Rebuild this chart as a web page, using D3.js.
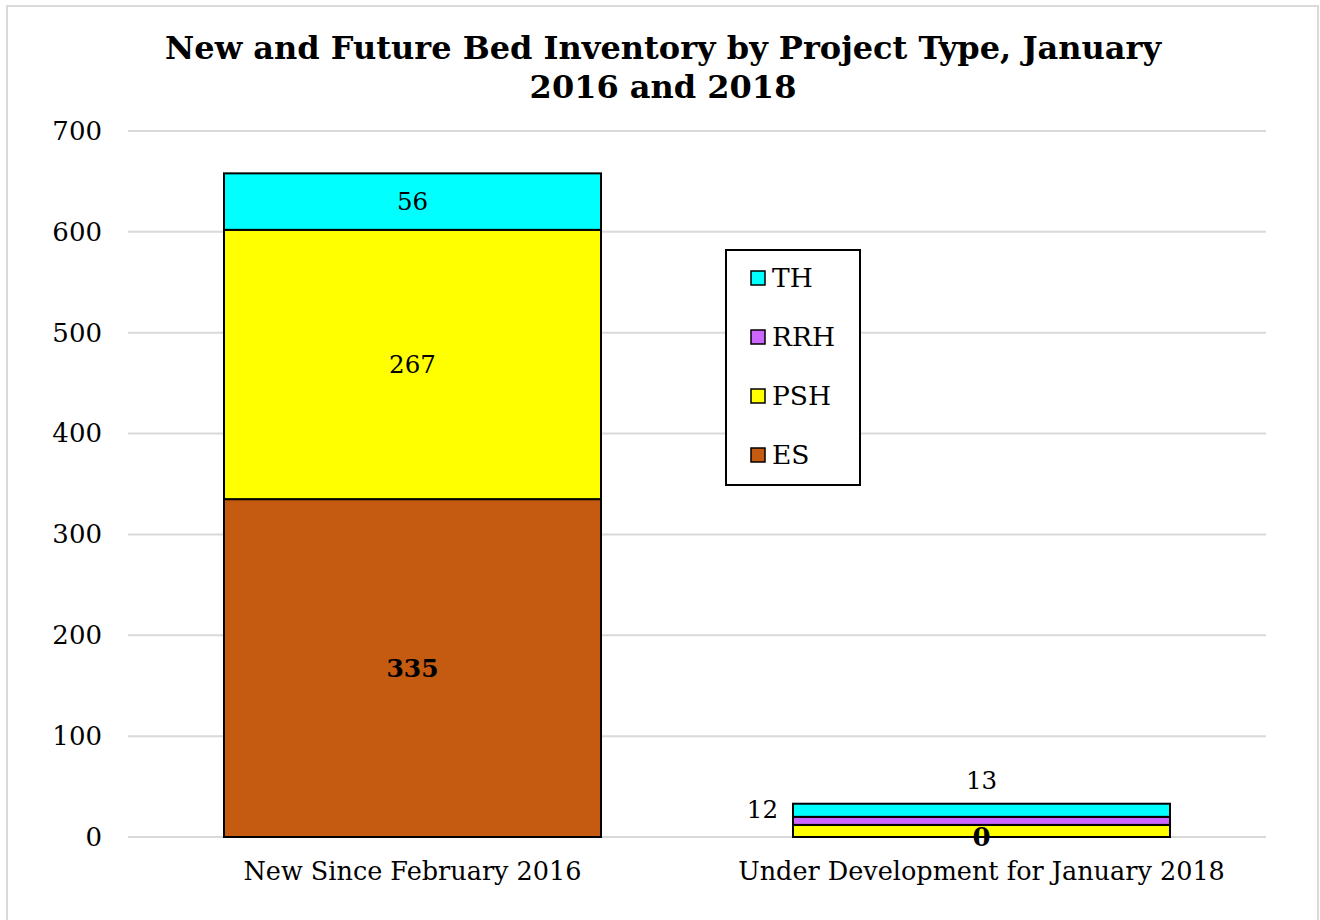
<!DOCTYPE html>
<html><head><meta charset="utf-8">
<script src="https://cdn.jsdelivr.net/npm/d3@7"></script>
<style>
html,body{margin:0;padding:0;background:#fff;}
svg{display:block;font-family:"DejaVu Serif",serif;}
</style></head>
<body>
<svg id="chart" width="1320" height="920"></svg>
<script>
const categories = ["New Since February 2016", "Under Development for January 2018"];
const seriesNames = ["ES", "PSH", "RRH", "TH"];
const ES  = [335, 0];
const PSH = [267, 12];
const RRH = [0, 8];
const TH  = [56, 13];
const yTicks = [0, 100, 200, 300, 400, 500, 600, 700];
const colors = {ES:"#c55a11", PSH:"#ffff00", RRH:"#cc66ff", TH:"#00ffff"};
const titleLines = ["New and Future Bed Inventory by Project Type, January", "2016 and 2018"];

const svg = d3.select("#chart");
const W = 1320, H = 920;
const m = {left:128, right:54, top:131, bottom:83};
const x0 = m.left, x1 = W - m.right, y0 = H - m.bottom, y1 = m.top;

// outer border
svg.append("rect").attr("x",7).attr("y",6).attr("width",1311).attr("height",930)
  .attr("fill","none").attr("stroke","#d9d9d9").attr("stroke-width",2);

const table = categories.map((c,i)=>({cat:c, ES:ES[i], PSH:PSH[i], RRH:RRH[i], TH:TH[i]}));
const stacked = d3.stack().keys(seriesNames)(table);

const y = d3.scaleLinear().domain([0,700]).range([y0,y1]);
const p = 192/569;
const x = d3.scaleBand().domain(categories).range([x0,x1]).paddingInner(p).paddingOuter(p/2);

// gridlines
svg.append("g").selectAll("line").data(yTicks).join("line")
  .attr("x1",x0).attr("x2",x1).attr("y1",d=>y(d)).attr("y2",d=>y(d))
  .attr("stroke","#d9d9d9").attr("stroke-width",2);

// y axis labels
const yAxis = d3.axisLeft(y).tickValues(yTicks).tickSize(0).tickPadding(26);
const ya = svg.append("g").attr("transform",`translate(${x0},0)`).call(yAxis);
ya.select(".domain").remove();
ya.selectAll("text").attr("font-family","DejaVu Serif").attr("font-size",26).attr("fill","#000");

// x axis labels
const xAxis = d3.axisBottom(x).tickSize(0).tickPadding(25);
const xa = svg.append("g").attr("transform",`translate(0,${y0})`).call(xAxis);
xa.select(".domain").remove();
xa.selectAll("text").attr("font-family","DejaVu Serif").attr("font-size",25.5).attr("fill","#000");

// bars
svg.append("g").selectAll("g").data(stacked).join("g")
  .attr("fill",d=>colors[d.key])
  .selectAll("rect").data(d=>d.filter(s=>s[1]-s[0]>0)).join("rect")
  .attr("x",d=>x(d.data.cat)).attr("width",x.bandwidth())
  .attr("y",d=>y(d[1])).attr("height",d=>y(d[0])-y(d[1]))
  .attr("stroke","#000").attr("stroke-width",2);

// data labels
const lab = svg.append("g").attr("font-family","DejaVu Serif").attr("font-size",24.5).attr("fill","#000");
const cx = c => x(c) + x.bandwidth()/2;
const s = k => stacked[seriesNames.indexOf(k)];
// bar 1
lab.append("text").attr("x",cx(categories[0])).attr("y",(y(s("TH")[0][0])+y(s("TH")[0][1]))/2).attr("dy","0.35em").attr("text-anchor","middle").text(TH[0]);
lab.append("text").attr("x",cx(categories[0])).attr("y",(y(s("PSH")[0][0])+y(s("PSH")[0][1]))/2).attr("dy","0.35em").attr("text-anchor","middle").text(PSH[0]);
lab.append("text").attr("x",cx(categories[0])).attr("y",(y(s("ES")[0][0])+y(s("ES")[0][1]))/2).attr("dy","0.35em").attr("text-anchor","middle").attr("font-weight","bold").attr("font-size",25).text(ES[0]);
// bar 2
lab.append("text").attr("x",cx(categories[1])).attr("y",y(s("TH")[1][1])-23).attr("dy","0.35em").attr("text-anchor","middle").text(TH[1]);
lab.append("text").attr("x",x(categories[1])-15).attr("y",y(s("TH")[1][1])+6).attr("dy","0.35em").attr("text-anchor","end").text(PSH[1]);
lab.append("text").attr("x",cx(categories[1])).attr("y",y(0)).attr("dy","0.35em").attr("text-anchor","middle").attr("font-weight","bold").attr("font-size",26).text(ES[1]);

// legend
const lg = svg.append("g").attr("transform","translate(726,250)");
lg.append("rect").attr("width",134).attr("height",235).attr("fill","#fff").attr("stroke","#000").attr("stroke-width",2);
const order = ["TH","RRH","PSH","ES"];
const li = lg.selectAll("g.item").data(order).join("g").attr("class","item")
  .attr("transform",(d,i)=>`translate(25,${28+i*59})`);
li.append("rect").attr("x",0).attr("y",-7).attr("width",14).attr("height",14)
  .attr("fill",d=>colors[d]).attr("stroke","#000").attr("stroke-width",1.5);
li.append("text").attr("x",21).attr("y",0).attr("dy","0.35em")
  .attr("font-family","DejaVu Serif").attr("font-size",26.5).text(d=>d);

// title
svg.append("g").selectAll("text").data(titleLines).join("text")
  .attr("x",663).attr("y",(d,i)=>59+i*39).attr("text-anchor","middle")
  .attr("font-family","DejaVu Serif").attr("font-weight","bold").attr("font-size",32)
  .text(d=>d);
</script>
</body></html>
